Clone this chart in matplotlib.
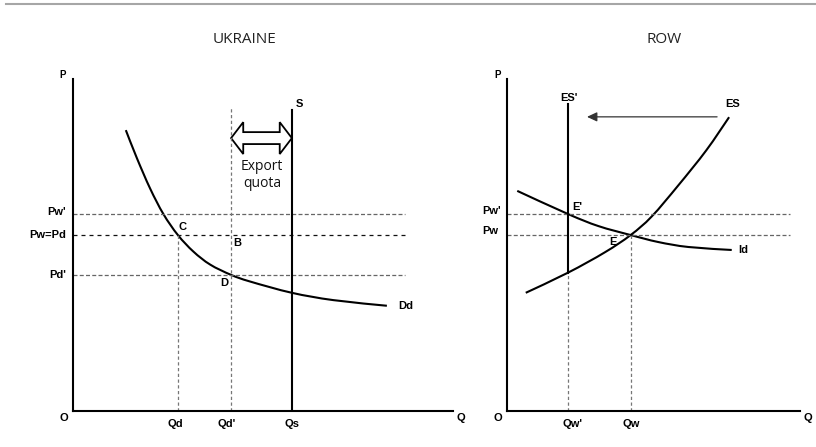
import matplotlib.pyplot as plt
from matplotlib.lines import Line2D
from matplotlib.path import Path
from matplotlib.patches import Polygon, FancyArrowPatch, PathPatch

plt.rcParams['font.family'] = ['Liberation Sans', 'DejaVu Sans']

# --- Ukraine (left panel), chart units 0..10 ---
pw_uk = 5.30      # Pw=Pd
pw1_uk = 5.93     # Pw'
pd1_uk = 4.10     # Pd'
qd = 2.76
qd1 = 4.16
qs = 5.76
s_top = 9.07
qd1_top = 9.13
dd_q = [1.39, 1.68, 2.03, 2.38, 2.76, 3.17, 3.61, 4.16, 4.66, 5.76, 6.85, 8.26]
dd_p = [8.46, 7.62, 6.70, 5.93, 5.30, 4.80, 4.41, 4.10, 3.90, 3.56, 3.34, 3.17]
quota_p = 8.22

# --- ROW (right panel) ---
pw = 5.30
pw1 = 5.93
qw = 4.22
qw1 = 2.09
es1_top = 9.25
es_q = [0.64, 2.09, 3.34, 4.22, 4.94, 5.85, 6.80, 7.58]
es_p = [3.56, 4.17, 4.78, 5.30, 5.86, 6.80, 7.85, 8.85]
id_q = [0.35, 2.09, 3.12, 4.22, 5.16, 6.19, 7.67]
id_p = [6.63, 5.93, 5.57, 5.30, 5.09, 4.94, 4.85]
shift_from = 7.17
shift_to = 2.73
shift_p = 8.86


def smooth_curve(ax, xs, ys, **kw):
    # draw a smooth line through the read points (Catmull-Rom as cubic Bezier)
    pts = list(zip(xs, ys))
    ext = [pts[0]] + pts + [pts[-1]]
    verts = [pts[0]]
    codes = [Path.MOVETO]
    for i in range(1, len(ext) - 2):
        p0, p1, p2, p3 = ext[i - 1], ext[i], ext[i + 1], ext[i + 2]
        c1 = (p1[0] + (p2[0] - p0[0]) / 6, p1[1] + (p2[1] - p0[1]) / 6)
        c2 = (p2[0] - (p3[0] - p1[0]) / 6, p2[1] - (p3[1] - p1[1]) / 6)
        verts += [c1, c2, p2]
        codes += [Path.CURVE4] * 3
    ax.add_patch(PathPatch(Path(verts, codes), fill=False, capstyle='butt', **kw))


fig = plt.figure(figsize=(8.16, 4.47), dpi=100)
fig.add_artist(Line2D([6/816, 1], [1 - 4/447, 1 - 4/447], transform=fig.transFigure,
                      color='#a6a6a6', lw=1.5))

ax1 = fig.add_axes([73/816, 36/447, 380/816, 332/447])
ax2 = fig.add_axes([507/816, 36/447, 293/816, 332/447])
for ax in (ax1, ax2):
    ax.set_xlim(0, 10)
    ax.set_ylim(0, 10)
    ax.spines[['top', 'right']].set_visible(False)
    ax.spines[['left', 'bottom']].set_linewidth(1.5)
    ax.set_xticks([])
    ax.set_yticks([])
    ax.patch.set_alpha(0)

bold = dict(fontsize=8, fontweight='bold', va='center')
hgray = dict(lw=0.9, color='#666666', linestyle=(0, (3.2, 1.8)))
hblack = dict(lw=0.9, color='#111111', linestyle=(0, (3.2, 3.2)))
vgray = dict(lw=0.9, color='#777777', linestyle=(0, (2.6, 2.0)))

# ---------------- Ukraine ----------------
ax1.plot([0, 8.74], [pw1_uk, pw1_uk], **hgray)
ax1.plot([0, 8.74], [pw_uk, pw_uk], **hblack)
ax1.plot([0, 8.74], [pd1_uk, pd1_uk], **hgray)
ax1.plot([qd, qd], [0, pw_uk], **vgray)
ax1.plot([qd1, qd1], [0, qd1_top], **vgray)
ax1.plot([qs, qs], [0, s_top], color='black', lw=1.5)
smooth_curve(ax1, dd_q, dd_p, color='black', lw=1.5)

hl, hh, sh = 0.32, 0.48, 0.18
verts = [(qd1, quota_p), (qd1 + hl, quota_p + hh), (qd1 + hl, quota_p + sh),
         (qs - hl, quota_p + sh), (qs - hl, quota_p + hh), (qs, quota_p),
         (qs - hl, quota_p - hh), (qs - hl, quota_p - sh), (qd1 + hl, quota_p - sh),
         (qd1 + hl, quota_p - hh)]
ax1.add_patch(Polygon(verts, closed=True, facecolor='white', edgecolor='black', lw=1.3))
ax1.text((qd1 + qs) / 2 + 0.01, 7.11, 'Export\nquota', ha='center', va='center',
         fontsize=10, family=['Open Sans', 'DejaVu Sans'], color='#111111')

ax1.text(4.5, 11.2, 'UKRAINE', ha='center', va='center', fontsize=11,
         family=['Open Sans', 'DejaVu Sans'], color='#222222')
ax1.text(-0.26, 10.12, 'P', ha='center', **{**bold, 'fontsize': 7})
ax1.text(-0.25, -0.2, 'O', ha='center', **bold)
ax1.text(10.22, -0.21, 'Q', ha='center', **bold)
ax1.text(qd - 0.08, -0.38, 'Qd', ha='center', **bold)
ax1.text(qd1 - 0.12, -0.38, "Qd'", ha='center', **bold)
ax1.text(qs, -0.38, 'Qs', ha='center', **bold)
ax1.text(qs + 0.2, 9.26, 'S', ha='center', **bold)
ax1.text(-0.18, pw1_uk + 0.06, "Pw'", ha='right', **bold)
ax1.text(-0.18, pw_uk, 'Pw=Pd', ha='right', **bold)
ax1.text(-0.18, pd1_uk + 0.01, "Pd'", ha='right', **bold)
ax1.text(2.87, 5.54, 'C', ha='center', **bold)
ax1.text(4.32, 5.06, 'B', ha='center', **bold)
ax1.text(3.99, 3.86, 'D', ha='center', **bold)
ax1.text(8.55, 3.15, 'Dd', ha='left', **bold)

# ---------------- ROW ----------------
ax2.plot([0, 9.66], [pw1, pw1], **hgray)
ax2.plot([0, 9.66], [pw, pw], **hgray)
ax2.plot([qw1, qw1], [0, es_p[1]], **vgray)
ax2.plot([qw, qw], [0, pw], **vgray)
ax2.plot([qw1, qw1], [es_p[1], es1_top], color='black', lw=1.5)
smooth_curve(ax2, es_q, es_p, color='black', lw=1.5)
smooth_curve(ax2, id_q, id_p, color='black', lw=1.5)
ax2.add_patch(FancyArrowPatch((shift_from, shift_p), (shift_to, shift_p),
                              arrowstyle='-|>,head_length=0.6,head_width=0.28',
                              mutation_scale=10, color='#333333', lw=0.9,
                              shrinkA=0, shrinkB=0))

ax2.text(5.35, 11.2, 'ROW', ha='center', va='center', fontsize=11,
         family=['Open Sans', 'DejaVu Sans'], color='#222222')
ax2.text(-0.31, 10.12, 'P', ha='center', **{**bold, 'fontsize': 7})
ax2.text(-0.31, -0.21, 'O', ha='center', **bold)
ax2.text(10.26, -0.21, 'Q', ha='center', **bold)
ax2.text(qw1 + 0.16, -0.38, "Qw'", ha='center', **bold)
ax2.text(qw + 0.01, -0.38, 'Qw', ha='center', **bold)
ax2.text(qw1 + 0.03, 9.43, "ES'", ha='center', **bold)
ax2.text(7.71, 9.25, 'ES', ha='center', **bold)
ax2.text(-0.85, pw1 + 0.09, "Pw'", ha='left', **bold)
ax2.text(-0.85, pw + 0.11, 'Pw', ha='left', **bold)
ax2.text(2.22, 6.13, "E'", ha='left', **bold)
ax2.text(3.6, 5.09, 'E', ha='center', **bold)
ax2.text(7.88, 4.85, 'Id', ha='left', **bold)

fig.savefig('out.png', dpi=100)
